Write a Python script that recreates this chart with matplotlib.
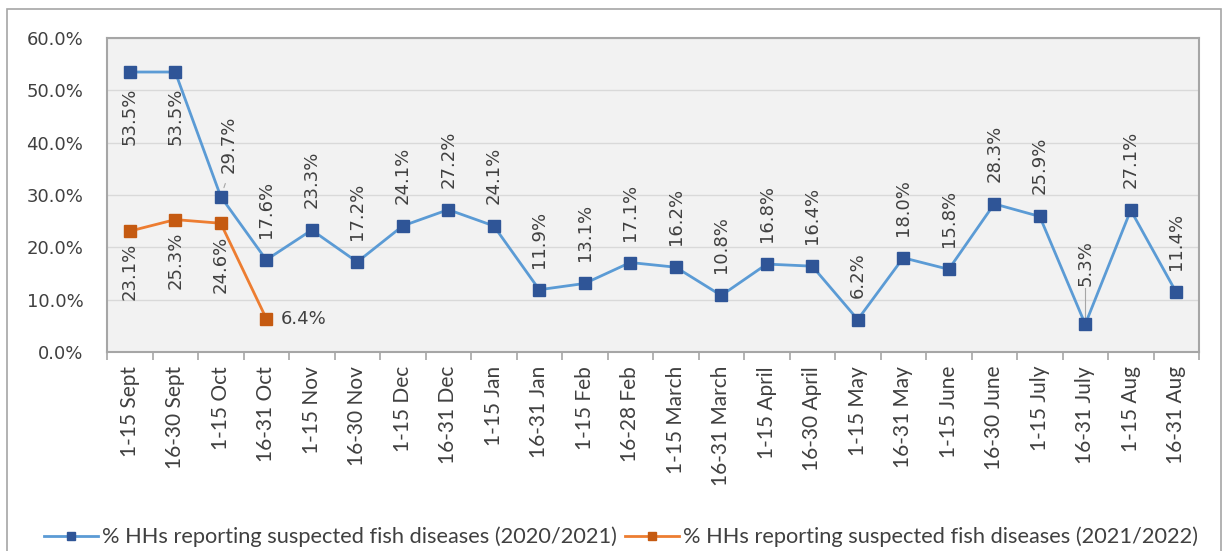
import matplotlib.pyplot as plt
import matplotlib.patches as mpatches
from matplotlib.ticker import FixedLocator, FuncFormatter

periods = ["1-15 Sept", "16-30 Sept", "1-15 Oct", "16-31 Oct", "1-15 Nov", "16-30 Nov",
           "1-15 Dec", "16-31 Dec", "1-15 Jan", "16-31 Jan", "1-15 Feb", "16-28 Feb",
           "1-15 March", "16-31 March", "1-15 April", "16-30 April", "1-15 May", "16-31 May",
           "1-15 June", "16-30 June", "1-15 July", "16-31 July", "1-15 Aug", "16-31 Aug"]
pct_2020 = [53.5, 53.5, 29.7, 17.6, 23.3, 17.2, 24.1, 27.2, 24.1, 11.9, 13.1, 17.1,
            16.2, 10.8, 16.8, 16.4, 6.2, 18.0, 15.8, 28.3, 25.9, 5.3, 27.1, 11.4]
pct_2021 = [23.1, 25.3, 24.6, 6.4]
label_2020 = "% HHs reporting suspected fish diseases (2020/2021)"
label_2021 = "% HHs reporting suspected fish diseases (2021/2022)"

txt = '#404040'
fig = plt.figure(figsize=(12.24, 5.51), dpi=100)
W, H = 1224, 551
ax = fig.add_axes([107 / W, 1 - 352 / H, (1199 - 107) / W, (352 - 38) / H])
ax.set_facecolor('#f2f2f2')

# outer chart border
fig.patches.append(mpatches.Rectangle((7 / W, -0.02), (1221 - 7) / W, 1 - 9 / H + 0.02,
                                      transform=fig.transFigure, fill=False,
                                      edgecolor='#a6a6a6', lw=1.2))

x1 = list(range(len(pct_2020)))
x2 = list(range(len(pct_2021)))
ax.plot(x1, pct_2020, color='#5b9bd5', lw=2, marker='s', ms=8,
        mfc='#2f5597', mec='#2f5597', label=label_2020, zorder=3)
ax.plot(x2, pct_2021, color='#ed7d31', lw=2, marker='s', ms=8,
        mfc='#c55a11', mec='#c55a11', label=label_2021, zorder=3)

ax.set_xlim(-0.5, len(periods) - 0.5)
ax.set_ylim(0, 60)
ax.set_yticks(range(0, 61, 10))
ax.yaxis.set_major_formatter(FuncFormatter(lambda v, p: f"{v:.1f}%"))
ax.grid(axis='y', color='#d9d9d9', lw=1)
ax.set_axisbelow(True)
for s in ax.spines.values():
    s.set_color('#a6a6a6')
    s.set_linewidth(1.5)
ax.tick_params(axis='y', length=0, pad=17, labelsize=13, labelcolor=txt)
ax.set_xticks(x1)
ax.set_xticklabels(periods, rotation=90, fontsize=15, color=txt, family=['Lato', 'DejaVu Sans'])
ax.tick_params(axis='x', which='major', length=0, pad=10)
ax.xaxis.set_minor_locator(FixedLocator([i - 0.5 for i in range(len(periods) + 1)]))
ax.tick_params(axis='x', which='minor', length=6, color='#a6a6a6', width=1.2)

# data labels
lab = dict(fontsize=13, color=txt, textcoords='offset pixels', rotation=90)
for i, v in enumerate(pct_2020):
    s = f"{v:.1f}%"
    if i in (0, 1):
        ax.annotate(s, (i, v), xytext=(0, -16), ha='center', va='top', **lab)
    elif i == 2:
        ax.annotate(s, (i, v), xytext=(8, 24), ha='center', va='bottom', **lab)
        ax.annotate('', (i + 0.05, v + 1.2), xytext=(i + 0.12, v + 3.0),
                    textcoords='data', arrowprops=dict(arrowstyle='-', color='#a6a6a6', lw=0.8))
    elif i == 21:
        ax.annotate(s, (i, v), xytext=(0, 38), ha='center', va='bottom', **lab)
        ax.plot([i, i], [v + 1.2, v + 7.0], color='#a6a6a6', lw=0.8, zorder=2)
    else:
        ax.annotate(s, (i, v), xytext=(0, 22), ha='center', va='bottom', **lab)
for i, v in enumerate(pct_2021):
    s = f"{v:.1f}%"
    if i == 3:
        ax.annotate(s, (i, v), xytext=(15, 0), ha='left', va='center', fontsize=13,
                    color=txt, textcoords='offset pixels')
    else:
        ax.annotate(s, (i, v), xytext=(0, -12), ha='center', va='top', **lab)

leg = fig.legend(loc='center left', bbox_to_anchor=(40 / W, 1 - 537 / H), ncol=2, frameon=False,
                 prop={'family': ['Lato', 'DejaVu Sans'], 'size': 15.7}, labelcolor=txt,
                 handlelength=2.45, handletextpad=0.2, columnspacing=0.37,
                 borderpad=0.2, borderaxespad=0)
for h in leg.legend_handles:
    h.set_markersize(6)

fig.savefig('out.png', dpi=100, facecolor='white')
